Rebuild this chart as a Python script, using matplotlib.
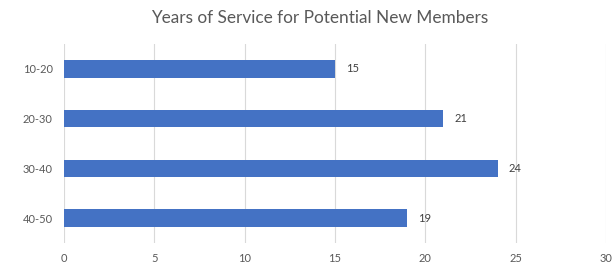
import matplotlib.pyplot as plt

# Data
categories = ['10-20', '20-30', '30-40', '40-50']
years = [15, 21, 24, 19]
ticks = [0, 5, 10, 15, 20, 25, 30]

plt.rcParams['font.family'] = ['Lato', 'DejaVu Sans']

fig = plt.figure(figsize=(6.12, 2.65), dpi=100)
ax = fig.add_axes([64 / 612, 1 - 243 / 265, 542 / 612, 199 / 265])

pos = range(len(categories))
ax.barh(pos, years, height=0.35, color='#4472C4', zorder=3)
for p, v in zip(pos, years):
    ax.text(v + 0.6, p, str(v), va='center', ha='left', fontsize=8, color='#404040')

ax.set_xlim(0, 30)
ax.set_ylim(3.5, -0.5)
ax.set_xticks(ticks)
ax.set_yticks(list(pos))
ax.set_yticklabels(categories)
ax.tick_params(axis='both', length=0, labelsize=8, colors='#595959')
ax.tick_params(axis='x', pad=7)
ax.tick_params(axis='y', pad=8)
ax.grid(axis='x', color='#D9D9D9', linewidth=0.8, zorder=0)
for s in ax.spines.values():
    s.set_visible(False)

fig.text(320 / 612, 1 - 18 / 265, 'Years of Service for Potential New Members',
         ha='center', va='center', fontsize=12.4, color='#595959')

fig.savefig('out.png', dpi=100)
